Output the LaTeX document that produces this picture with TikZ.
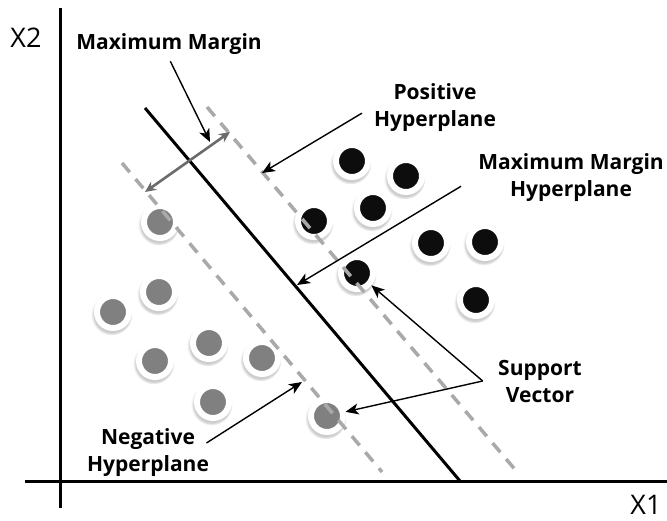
\documentclass[tikz,border=0pt]{standalone}
\usepackage{fontspec}
\setmainfont{Open Sans}
\usetikzlibrary{arrows.meta, shadows, positioning}
\definecolor{dotgray}{HTML}{808080}
\definecolor{dotblack}{HTML}{0D0D0D}
\definecolor{dashgray}{HTML}{A9A9A9}
\definecolor{margingray}{HTML}{6B6B6B}

\tikzset{
  datapt/.style={circle, draw=white, line width=6pt, minimum size=32pt, inner sep=0pt,
    circular drop shadow={shadow xshift=-1pt, shadow yshift=-2pt, shadow scale=1.3, opacity=0.4}},
  pospt/.style={datapt, fill=dotblack},
  negpt/.style={datapt, fill=dotgray},
  lbl/.style={font=\fontsize{21}{27}\selectfont\bfseries, align=center},
  callout/.style={-{Stealth[length=13pt, width=11pt, inset=3.5pt]}, line width=1.4pt},
  hyper/.style={dashgray, line width=3.5pt, dash pattern=on 12pt off 9pt},
}

\begin{document}
\begin{tikzpicture}[x=1pt, y=-1pt]
  \useasboundingbox (0,0) rectangle (667,521);
  % Ejes
  \draw[line width=3pt] (60,8) -- (60,508);
  \draw[line width=3pt] (25,481) -- (667,481);
  \node[font=\fontsize{27}{30}\selectfont] (xtwo) at (26,38) {X2};
  \node[font=\fontsize{27}{30}\selectfont] (xone) at (646,505) {X1};
  % Clase positiva
  \node[pospt] (p1) at (352,161) {};
  \node[pospt] (p2) at (406,176) {};
  \node[pospt] (p3) at (373,208) {};
  \node[pospt] (p4) at (314,221) {};
  \node[pospt] (p5) at (431,243) {};
  \node[pospt] (p6) at (485,242) {};
  \node[pospt] (sv1) at (357,273) {};
  \node[pospt] (p7) at (476,300) {};
  % Clase negativa
  \node[negpt] (n1) at (160,222) {};
  \node[negpt] (n2) at (159,292) {};
  \node[negpt] (n3) at (113,312) {};
  \node[negpt] (n4) at (155,361) {};
  \node[negpt] (n5) at (209,343) {};
  \node[negpt] (n6) at (262,358) {};
  \node[negpt] (n7) at (213,402) {};
  \node[negpt] (sv2) at (327,416) {};
  % Hiperplanos
  \draw[hyper] (207,107) -- (518,473);
  \draw[hyper] (122,163) -- (382,472);
  \draw[line width=3pt] (145,108) -- (460,481);
  % Margen
  \coordinate (mleft) at (145,192);
  \coordinate (mright) at (230,132);
  \draw[{Stealth[length=11pt, width=10pt]}-{Stealth[length=11pt, width=10pt]}, margingray, line width=2.6pt] (mleft) -- (mright);
  % Etiquetas
  \node[lbl, anchor=base] (mmlbl) at (169,50) {Maximum Margin};
  \node[lbl] (poslbl) at (435,108) {Positive\\Hyperplane};
  \node[lbl] (mmhlbl) at (571,178) {Maximum Margin\\Hyperplane};
  \node[lbl] (svlbl) at (540,381) {Support\\Vector};
  \node[lbl] (neglbl) at (148,453) {Negative\\Hyperplane};
  % Flechas
  \coordinate (marginTip) at (210,142);
  \coordinate (posTip) at (262,173);
  \coordinate (mmhTip) at (297,285);
  \coordinate (negTip) at (302,382);
  \coordinate[left=12pt of svlbl.west] (svFork);
  \coordinate[above left=10pt and 6pt of neglbl.east] (negTail);
  \draw[callout, shorten <=3pt] (mmlbl.south) -- (marginTip);
  \draw[callout, shorten <=10pt] (poslbl.west) -- (posTip);
  \draw[callout, shorten <=16pt] (mmhlbl.west) -- (mmhTip);
  \draw[callout] (svFork) -- (sv1);
  \draw[callout] (svFork) -- (sv2);
  \draw[callout] (negTail) -- (negTip);
\end{tikzpicture}
\end{document}
